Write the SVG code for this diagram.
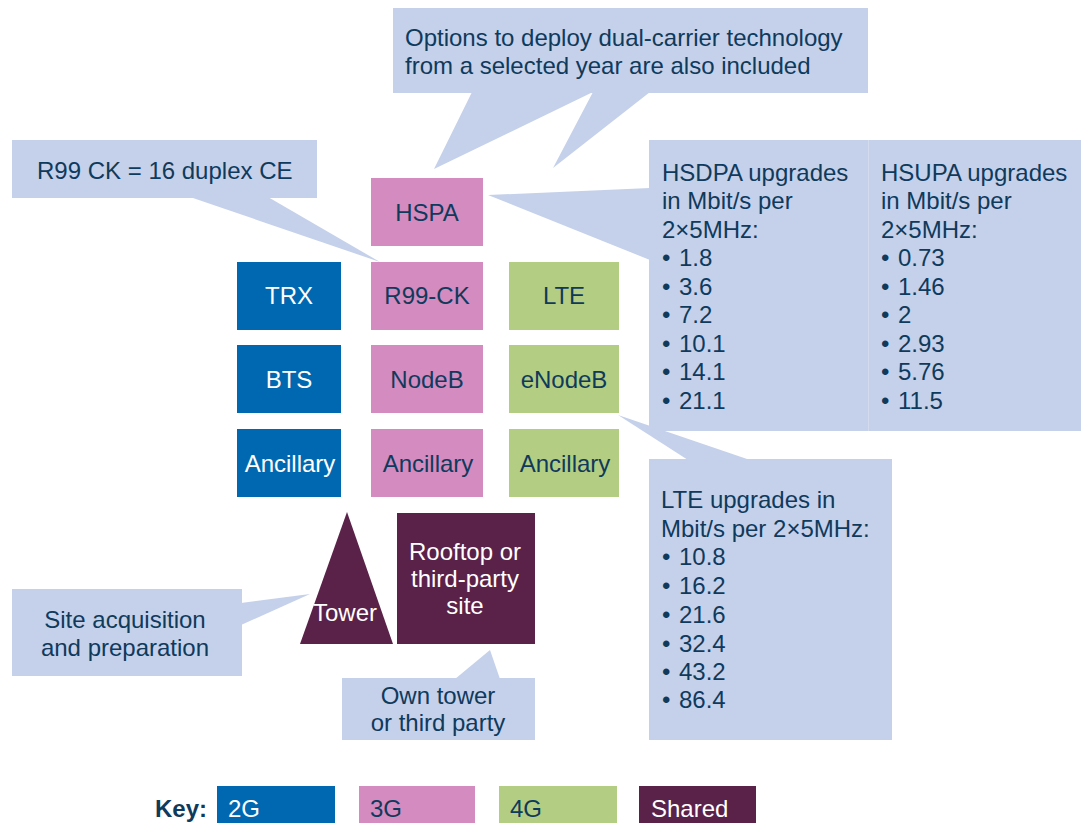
<svg xmlns="http://www.w3.org/2000/svg" width="1081" height="823" viewBox="0 0 1081 823">
<style>
text{font-family:"Liberation Sans",Arial,sans-serif;font-size:24px;fill:#0f3a5c}
.c{text-anchor:middle}
.w{fill:#ffffff}
.callout{fill:#c5d1ea}
.g2{fill:#0068b1}
.g3{fill:#d48bbf}
.g4{fill:#b3ce82}
.sh{fill:#5a2149}
.b{font-weight:bold}
</style>
<rect width="1081" height="823" fill="#ffffff"/>
<g id="connectors" class="callout">
<polygon points="472,92 434,169 593,92 553,168 650,92"/>
<polygon points="190,197 380,262 268,197"/>
<polygon points="650,188 488,195 650,260"/>
<polygon points="688,460 618,415 750,460"/>
<polygon points="241,603 310,594 241,625"/>
<polygon points="455,679 490,650 500,679"/>
</g>
<g id="callout-dual">
<rect class="callout" x="393" y="8" width="475" height="85"/>
<text x="405" y="46">Options to deploy dual-carrier technology</text>
<text x="405" y="74">from a selected year are also included</text>
</g>
<g id="callout-r99">
<rect class="callout" x="12" y="140" width="305" height="58"/>
<text x="37" y="179">R99 CK = 16 duplex CE</text>
</g>
<g id="callout-hsdpa">
<rect class="callout" x="649" y="140" width="219" height="291"/>
<text x="662" y="181">HSDPA upgrades</text>
<text x="662" y="209">in Mbit/s per</text>
<text x="662" y="238">2×5MHz:</text>
<text x="662" y="266">•</text><text x="679" y="266">1.8</text>
<text x="662" y="295">•</text><text x="679" y="295">3.6</text>
<text x="662" y="323">•</text><text x="679" y="323">7.2</text>
<text x="662" y="352">•</text><text x="679" y="352">10.1</text>
<text x="662" y="380">•</text><text x="679" y="380">14.1</text>
<text x="662" y="409">•</text><text x="679" y="409">21.1</text>
</g>
<g id="callout-hsupa">
<rect class="callout" x="868" y="140" width="213" height="291"/>
<line x1="868.5" y1="140" x2="868.5" y2="431" stroke="#d3dbee" stroke-width="1"/>
<text x="881" y="181">HSUPA upgrades</text>
<text x="881" y="209">in Mbit/s per</text>
<text x="881" y="238">2×5MHz:</text>
<text x="881" y="266">•</text><text x="898" y="266">0.73</text>
<text x="881" y="295">•</text><text x="898" y="295">1.46</text>
<text x="881" y="323">•</text><text x="898" y="323">2</text>
<text x="881" y="352">•</text><text x="898" y="352">2.93</text>
<text x="881" y="380">•</text><text x="898" y="380">5.76</text>
<text x="881" y="409">•</text><text x="898" y="409">11.5</text>
</g>
<g id="callout-lte">
<rect class="callout" x="649" y="459" width="243" height="281"/>
<text x="661" y="508">LTE upgrades in</text>
<text x="661" y="537">Mbit/s per 2×5MHz:</text>
<text x="662" y="565">•</text><text x="679" y="565">10.8</text>
<text x="662" y="594">•</text><text x="679" y="594">16.2</text>
<text x="662" y="623">•</text><text x="679" y="623">21.6</text>
<text x="662" y="652">•</text><text x="679" y="652">32.4</text>
<text x="662" y="680">•</text><text x="679" y="680">43.2</text>
<text x="662" y="708">•</text><text x="679" y="708">86.4</text>
</g>
<g id="callout-site">
<rect class="callout" x="12" y="589" width="230" height="87"/>
<text class="c" x="125" y="628">Site acquisition</text>
<text class="c" x="125" y="656">and preparation</text>
</g>
<g id="callout-own">
<rect class="callout" x="342" y="678" width="193" height="62"/>
<text class="c" x="438" y="704">Own tower</text>
<text class="c" x="438" y="731">or third party</text>
</g>
<g id="hspa"><rect class="g3" x="371" y="178" width="112" height="68"/><text class="c" x="427" y="221">HSPA</text></g>
<g id="trx"><rect class="g2" x="237" y="262" width="104" height="68"/><text class="c w" x="289" y="304">TRX</text></g>
<g id="r99ck"><rect class="g3" x="371" y="262" width="112" height="68"/><text class="c" x="427" y="304">R99-CK</text></g>
<g id="lte"><rect class="g4" x="509" y="262" width="110" height="68"/><text class="c" x="564" y="304">LTE</text></g>
<g id="bts"><rect class="g2" x="237" y="345" width="104" height="68"/><text class="c w" x="289" y="388">BTS</text></g>
<g id="nodeb"><rect class="g3" x="371" y="345" width="112" height="68"/><text class="c" x="427" y="388">NodeB</text></g>
<g id="enodeb"><rect class="g4" x="509" y="345" width="110" height="68"/><text class="c" x="564" y="388">eNodeB</text></g>
<g id="anc2g"><rect class="g2" x="237" y="429" width="104" height="68"/><text class="c w" x="290" y="472">Ancillary</text></g>
<g id="anc3g"><rect class="g3" x="371" y="429" width="112" height="68"/><text class="c" x="428" y="472">Ancillary</text></g>
<g id="anc4g"><rect class="g4" x="509" y="429" width="110" height="68"/><text class="c" x="565" y="472">Ancillary</text></g>
<g id="tower"><polygon class="sh" points="347,512 393,644 300,644"/><text class="c w" x="345" y="621">Tower</text></g>
<g id="rooftop"><rect class="sh" x="397" y="513" width="138" height="131"/>
<text class="c w" x="465" y="560">Rooftop or</text>
<text class="c w" x="465" y="587">third-party</text>
<text class="c w" x="465" y="614">site</text></g>
<g id="key">
<text class="b" x="155" y="817" font-size="23">Key:</text>
<rect class="g2" x="217" y="786" width="118" height="37"/><text class="w" x="228" y="817">2G</text>
<rect class="g3" x="359" y="786" width="116" height="37"/><text x="370" y="817">3G</text>
<rect class="g4" x="499" y="786" width="118" height="37"/><text x="510" y="817">4G</text>
<rect class="sh" x="639" y="786" width="117" height="37"/><text class="w" x="651" y="817">Shared</text>
</g>
</svg>
